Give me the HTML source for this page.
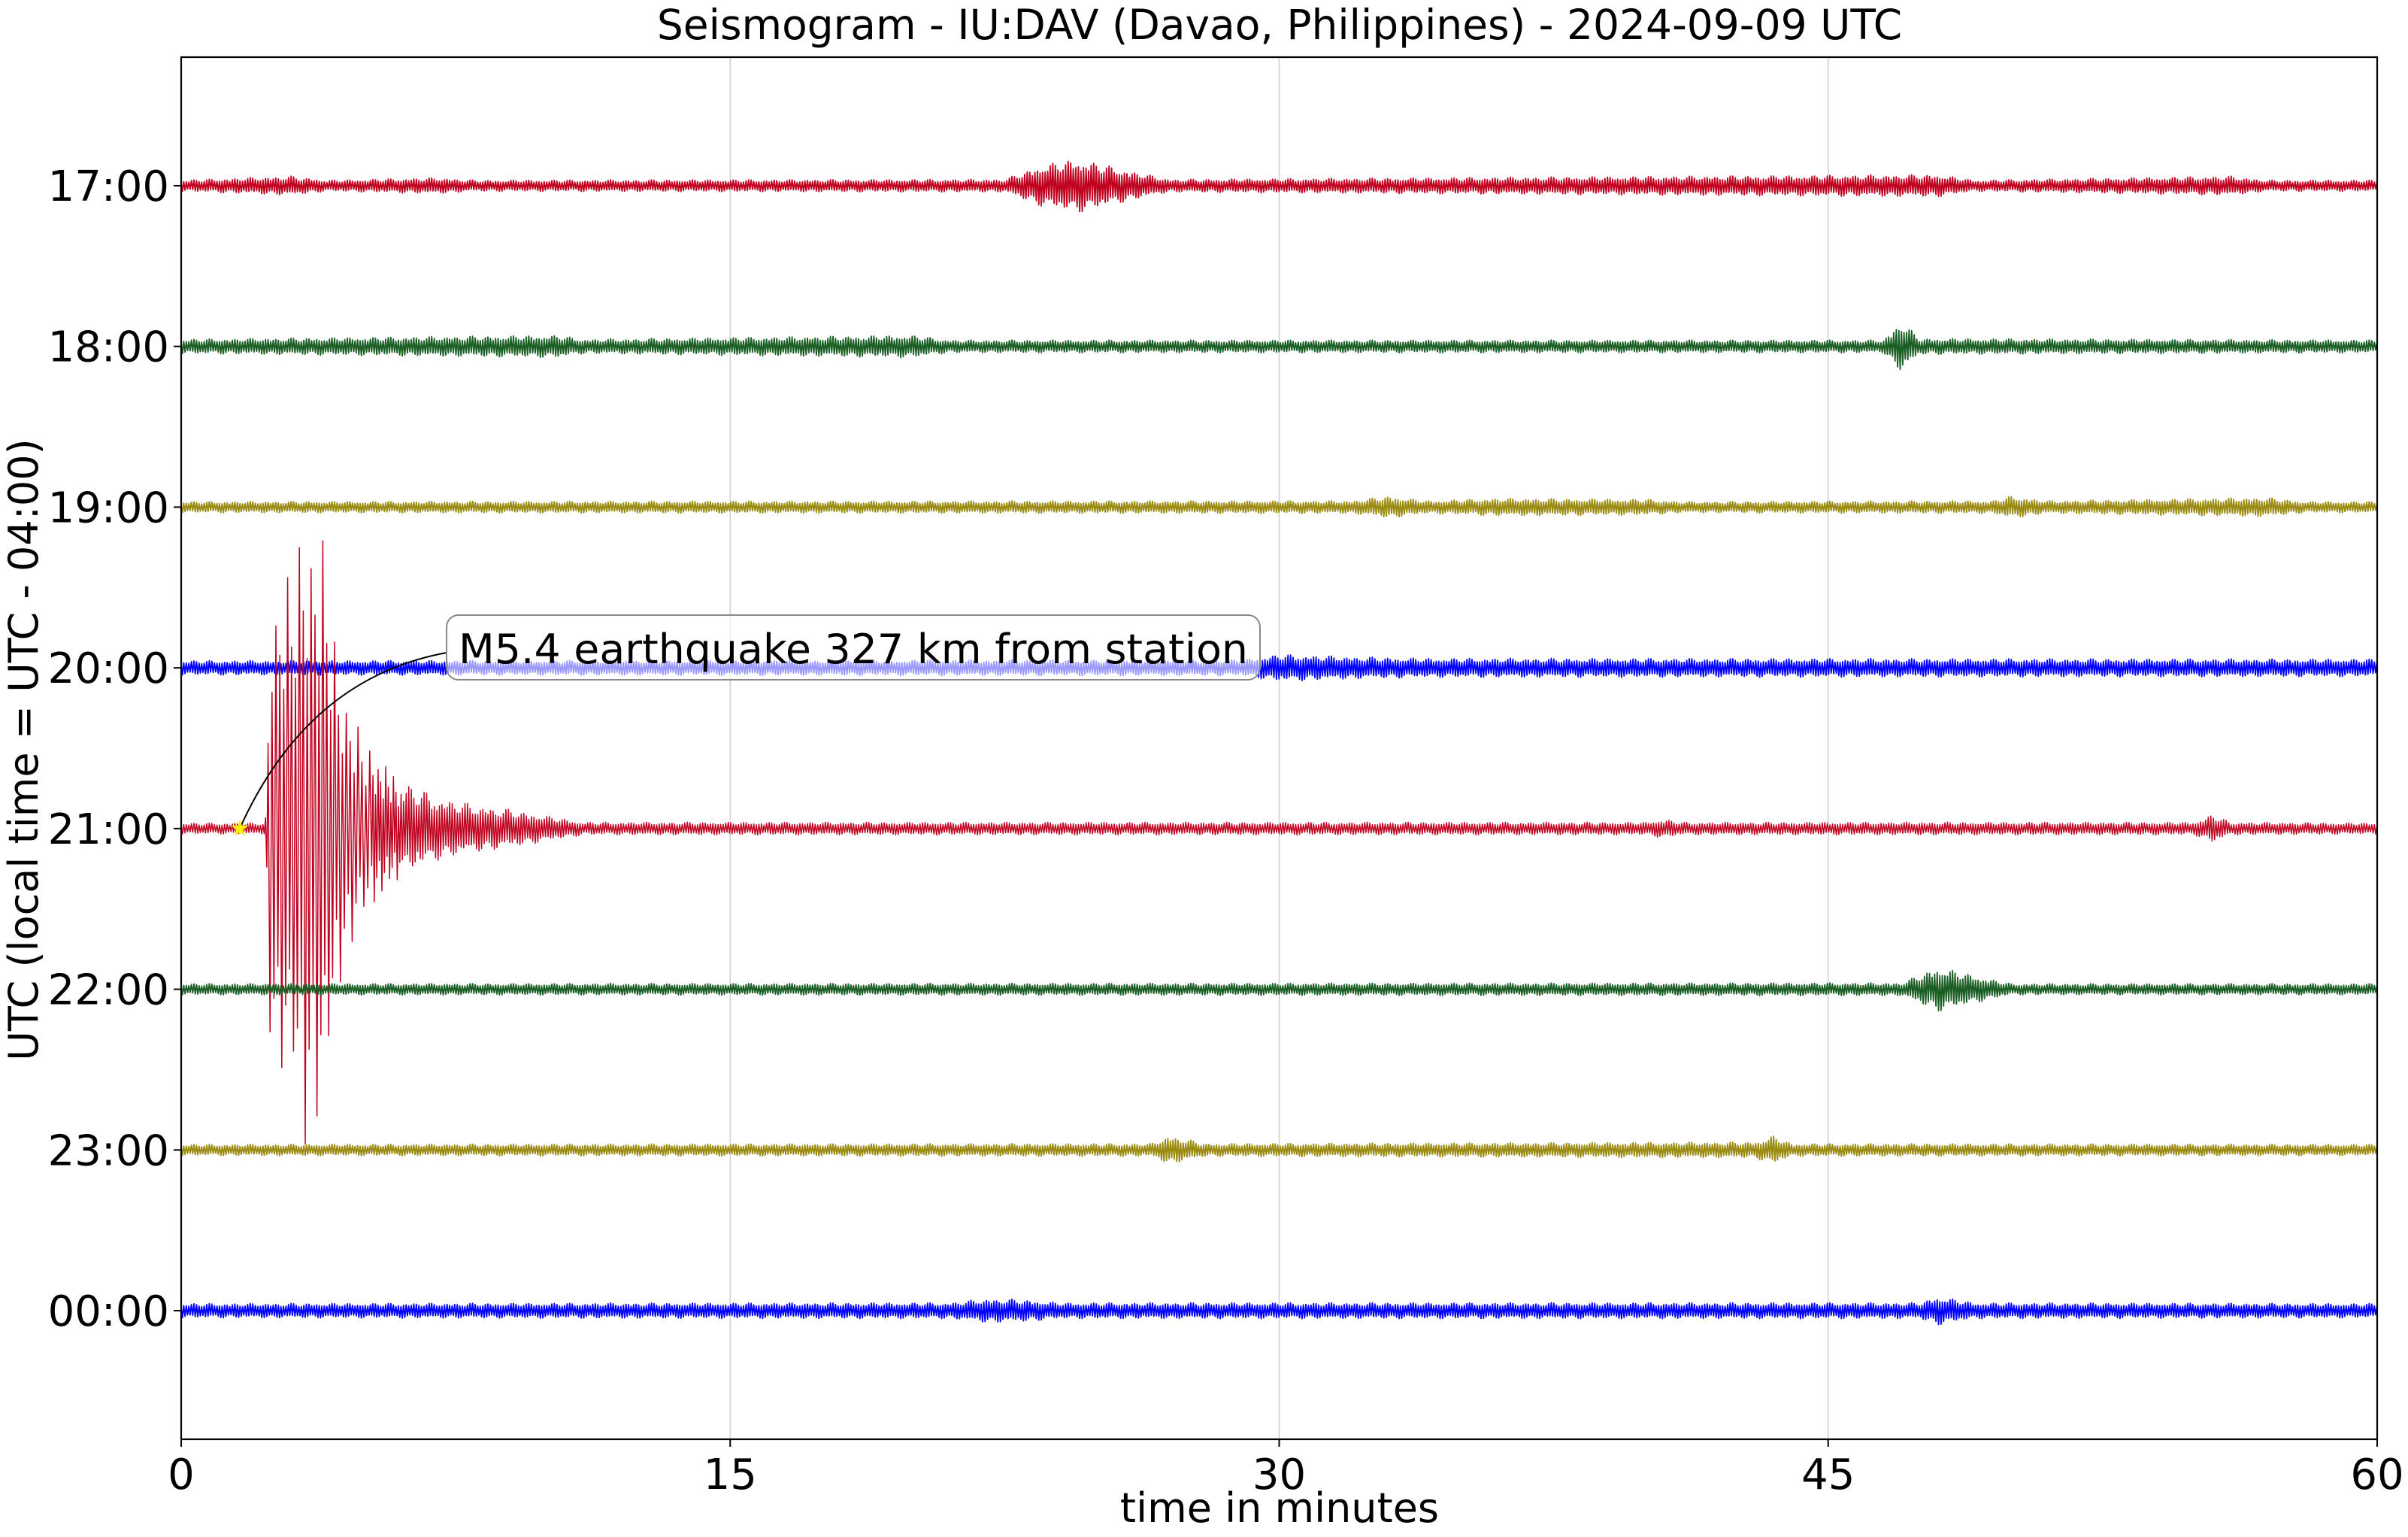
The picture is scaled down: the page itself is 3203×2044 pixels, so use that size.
<!DOCTYPE html>
<html><head><meta charset="utf-8"><style>
html,body{margin:0;padding:0;background:#fff;}
svg{display:block;font-family:"DejaVu Sans","Liberation Sans",sans-serif;}
</style></head><body>
<svg id="chart" width="3203" height="2044" viewBox="0 0 3203 2044" xmlns="http://www.w3.org/2000/svg">
<rect width="3203" height="2044" fill="#fff"/>
<text x="1702" y="52" font-size="55" text-anchor="middle">Seismogram - IU:DAV (Davao, Philippines) - 2024-09-09 UTC</text>
<g id="grid"></g>
<g id="traces"></g>
<g id="axes"></g>
<text x="1702" y="2024" font-size="54" text-anchor="middle">time in minutes</text>
<text transform="translate(50,997) rotate(-90)" font-size="54" text-anchor="middle">UTC (local time = UTC - 04:00)</text>
<g id="annot"></g>
</svg>
<script>
const rowLabels = ["17:00","18:00","19:00","20:00","21:00","22:00","23:00","00:00"];
const rowColors = ["#c0001f","#1a5e24","#9a8a12","#0000ff","#c0001f","#1a5e24","#9a8a12","#0000ff"];
const xTicks = [0,15,30,45,60];
// envelope keypoints per row: [minute, amplitude in row units]
const env0 = [[0,0.035],[3,0.06],[4,0.035],[7,0.05],[8,0.035],[22.5,0.04],[23.5,0.13],[24.5,0.17],[26,0.09],[27,0.04],[48,0.07],[49,0.035],[56,0.06],[57,0.035],[60,0.035]];
const env1 = [[0,0.045],[10.3,0.07],[11,0.045],[20,0.07],[21,0.04],[46.5,0.04],[47,0.16],[47.5,0.05],[60,0.04]];
const env2 = [[0,0.035],[32,0.04],[33,0.07],[34,0.04],[36,0.055],[40,0.05],[41,0.035],[49.5,0.04],[50,0.07],[51,0.04],[57,0.06],[58,0.035],[60,0.035]];
const env3 = [[0,0.045],[29,0.05],[30,0.085],[32,0.07],[34,0.06],[60,0.055]];
const env4 = [[0,0.035],[2.3,0.035],[2.45,1.5],[3,1.6],[3.4,2.0],[3.9,1.8],[4.3,1.0],[4.8,0.65],[5.3,0.45],[6,0.3],[7,0.2],[8,0.15],[9,0.12],[10,0.08],[11,0.04],[40,0.04],[40.5,0.06],[41,0.04],[55,0.04],[55.5,0.09],[56,0.04],[60,0.035]];
const env5 = [[0,0.035],[47,0.04],[48,0.14],[49.5,0.06],[50,0.035],[60,0.035]];
const env6 = [[0,0.035],[26.5,0.04],[27,0.09],[28,0.04],[43,0.05],[43.5,0.09],[44,0.04],[60,0.035]];
const env7 = [[0,0.045],[21,0.05],[22,0.075],[23,0.07],[24,0.05],[47.5,0.05],[48,0.09],[49,0.05],[60,0.045]];
const envelopes = [env0,env1,env2,env3,env4,env5,env6,env7];
const quake = {minute:1.6,row:4,label:"M5.4 earthquake 327 km from station"};

const L=241,R=3162,T=76,B=1914;
const yMin=-0.8,yMax=7.8;
const xs=m=>L+(m/60)*(R-L);
const ys=r=>T+((r-yMin)/(yMax-yMin))*(B-T);
const rowH=ys(1)-ys(0);
const NS="http://www.w3.org/2000/svg";
function mk(tag,attrs,parent){const e=document.createElementNS(NS,tag);for(const k in attrs)e.setAttribute(k,attrs[k]);parent.appendChild(e);return e;}
function envAt(env,m){for(let i=1;i<env.length;i++){if(m<=env[i][0]){const a=env[i-1],b=env[i];const t=(m-a[0])/((b[0]-a[0])||1);return a[1]+t*(b[1]-a[1]);}}return env[env.length-1][1];}

const grid=document.getElementById('grid');
xTicks.slice(1,-1).forEach(t=>{
  const g=mk('line',{x1:xs(t),x2:xs(t),y1:T,y2:B,stroke:'#d0d0d0','stroke-width':1.6},grid);
  
  
});

const traces=document.getElementById('traces');
envelopes.forEach((env,r)=>{
  const y0=ys(r);
  let d='';
  const big=r===4;
  let i=0;
  for(let x=L;x<=R;i++){
    const m=(x-L)/(R-L)*60;
    let a=envAt(env,m);
    const step=(big&&a>0.5)?2.6:1.7;
    let tex=0.55+0.45*Math.abs(Math.sin(i*1.37)*Math.cos(i*0.29));
    if(big && a>0.3) tex=(i%3===0)?(0.8+0.2*Math.abs(Math.sin(i*0.7))):(0.35+0.35*Math.abs(Math.sin(i*2.1)));
    const amp=a*rowH*tex;
    const yy=y0+(i%2?1:-1)*amp;
    d+=(i?'L':'M')+x.toFixed(1)+' '+yy.toFixed(1);
    x+=step;
  }
  const p=mk('path',{d:d,fill:'none',stroke:rowColors[r],'stroke-width':big?1.5:1.8,'stroke-linejoin':'round'},traces);
  
  
});

const axes=document.getElementById('axes');
const frame=mk('rect',{x:L,y:T,width:R-L,height:B-T,fill:'none',stroke:'#000','stroke-width':2.2},axes);


xTicks.forEach(t=>{
  mk('line',{x1:xs(t),x2:xs(t),y1:B,y2:B+10,stroke:'#000','stroke-width':2},axes);
  const tx=mk('text',{x:xs(t),y:B+66,'font-size':56,'text-anchor':'middle'},axes);
  tx.textContent=t;
  
  
});
rowLabels.forEach((lab,r)=>{
  mk('line',{x1:L-10,x2:L,y1:ys(r),y2:ys(r),stroke:'#000','stroke-width':2},axes);
  const tx=mk('text',{x:L-16,y:ys(r)+20,'font-size':56,'text-anchor':'end'},axes);
  tx.textContent=lab;
  
  
});

const an=document.getElementById('annot');
const sx=xs(quake.minute),sy=ys(quake.row);
const bx=594,by=818,bw=1082,bh=86;
const arrow=mk('path',{d:`M${sx} ${sy} Q ${sx+90} ${sy-200} ${bx} ${by+50}`,fill:'none',stroke:'#000','stroke-width':2},an);


const box=mk('rect',{x:bx,y:by,width:bw,height:bh,rx:16,fill:'rgba(255,255,255,0.6)',stroke:'#888','stroke-width':2},an);


const at=mk('text',{x:bx+16,y:by+64,'font-size':54,textLength:1050,lengthAdjust:'spacingAndGlyphs'},an);
at.textContent=quake.label;


const pts=[];for(let k=0;k<10;k++){const rr=k%2?5:12;const ang=-Math.PI/2+k*Math.PI/5;pts.push((sx+rr*Math.cos(ang)).toFixed(1)+','+(sy+rr*Math.sin(ang)).toFixed(1));}
const star=mk('polygon',{points:pts.join(' '),fill:'#ffee00'},an);


</script>
</body></html>
